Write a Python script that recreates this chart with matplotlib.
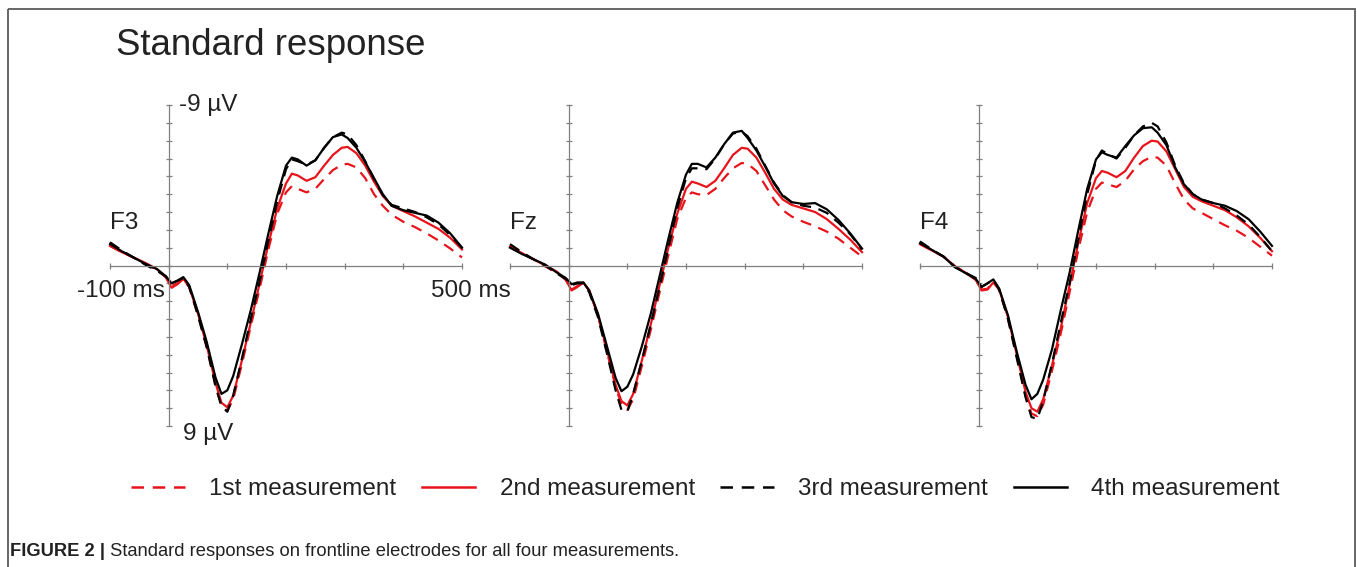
import matplotlib
matplotlib.use("Agg")
import matplotlib.pyplot as plt
from matplotlib.lines import Line2D
from matplotlib.patches import Rectangle

plt.rcParams["font.family"] = ["Liberation Sans", "DejaVu Sans"]

# time grid (ms) shared by all traces
T = [-100, -80, -60, -40, -20, -5, 5, 15, 25, 35, 50, 65, 80, 90, 100, 110, 125,
     140, 155, 170, 185, 200, 210, 220, 235, 250, 265, 280, 295, 305, 320, 335,
     350, 365, 380, 400, 420, 440, 460, 480, 500]

ELECTRODES = ["F3", "Fz", "F4"]
LABELS = ["1st measurement", "2nd measurement", "3rd measurement", "4th measurement"]

# amplitudes in µV (negative plotted upwards)
F3_1ST = [-1.1, -0.75, -0.45, -0.1, 0.25, 0.65, 1.15, 1.0, 0.75, 1.2, 2.8, 4.6, 6.7, 7.8, 8.15, 7.5, 5.5,
          3.4, 1.3, -0.9, -2.9, -4.1, -4.45, -4.3, -4.1, -4.3, -4.85, -5.35, -5.65, -5.7, -5.5, -4.9,
          -4.0, -3.35, -2.85, -2.45, -2.15, -1.8, -1.4, -0.95, -0.45]
F3_2ND = [-1.1, -0.75, -0.45, -0.15, 0.2, 0.65, 1.25, 1.05, 0.75, 1.2, 2.7, 4.5, 6.6, 7.7, 7.95, 7.3, 5.3,
          3.2, 1.0, -1.2, -3.2, -4.6, -5.15, -5.05, -4.75, -4.95, -5.6, -6.2, -6.6, -6.65, -6.3, -5.6,
          -4.7, -3.9, -3.35, -3.05, -2.75, -2.4, -2.05, -1.55, -0.9]
F3_3RD = [-1.3, -0.85, -0.45, -0.05, 0.3, 0.6, 1.0, 0.85, 0.7, 1.2, 2.8, 4.6, 6.8, 7.9, 8.2, 7.3, 5.2,
          3.0, 0.9, -1.4, -3.6, -5.4, -5.95, -5.85, -5.65, -5.9, -6.6, -7.2, -7.45, -7.35, -6.75, -5.85,
          -4.85, -3.95, -3.4, -3.2, -3.0, -2.7, -2.3, -1.7, -1.0]
F3_4TH = [-1.2, -0.8, -0.45, -0.1, 0.2, 0.6, 1.0, 0.85, 0.65, 1.1, 2.6, 4.3, 6.3, 7.2, 7.0, 6.2, 4.4,
          2.5, 0.4, -1.8, -3.9, -5.6, -6.05, -5.95, -5.6, -5.9, -6.6, -7.2, -7.35, -7.15, -6.6, -5.8,
          -4.9, -4.0, -3.35, -3.1, -2.95, -2.8, -2.4, -1.8, -1.0]

FZ_1ST = [-1.1, -0.7, -0.35, 0.05, 0.4, 0.8, 1.35, 1.15, 0.95, 1.4, 2.8, 4.8, 6.8, 7.8, 8.1, 7.5, 5.6,
          3.6, 1.5, -0.6, -2.6, -3.8, -4.1, -4.0, -3.95, -4.3, -4.9, -5.45, -5.75, -5.7, -5.3, -4.5,
          -3.7, -3.1, -2.75, -2.45, -2.2, -1.9, -1.5, -1.0, -0.5]
FZ_2ND = [-1.05, -0.7, -0.35, 0.0, 0.35, 0.8, 1.4, 1.2, 0.95, 1.4, 2.8, 4.7, 6.7, 7.6, 7.85, 7.2, 5.3,
          3.3, 1.1, -1.0, -2.9, -4.3, -4.7, -4.6, -4.4, -4.75, -5.45, -6.2, -6.6, -6.55, -6.05, -5.2,
          -4.3, -3.7, -3.4, -3.2, -3.0, -2.6, -2.05, -1.45, -0.75]
FZ_3RD = [-1.2, -0.75, -0.35, 0.0, 0.45, 0.75, 1.1, 1.0, 1.0, 1.5, 2.9, 4.9, 7.0, 8.1, 8.2, 7.2, 5.3,
          3.3, 1.2, -1.0, -3.2, -4.9, -5.45, -5.45, -5.4, -6.0, -6.8, -7.4, -7.5, -7.25, -6.55, -5.6,
          -4.65, -3.95, -3.55, -3.35, -3.25, -2.95, -2.4, -1.75, -0.9]
FZ_4TH = [-1.0, -0.65, -0.35, -0.05, 0.4, 0.7, 1.05, 0.95, 0.95, 1.4, 2.7, 4.5, 6.3, 7.05, 6.8, 6.1, 4.5,
          2.7, 0.6, -1.5, -3.5, -5.1, -5.7, -5.7, -5.5, -6.05, -6.8, -7.45, -7.55, -7.15, -6.45, -5.55,
          -4.6, -3.9, -3.55, -3.45, -3.5, -3.15, -2.55, -1.8, -0.95]

F4_1ST = [-1.2, -0.85, -0.5, 0.05, 0.45, 0.8, 1.35, 1.3, 0.9, 1.35, 3.0, 5.1, 7.3, 8.3, 8.45, 7.8, 5.9,
          3.8, 1.5, -0.9, -3.0, -4.3, -4.65, -4.55, -4.4, -4.75, -5.4, -5.85, -6.1, -6.05, -5.6, -4.6,
          -3.7, -3.2, -2.95, -2.6, -2.25, -1.95, -1.55, -1.05, -0.55]
F4_2ND = [-1.2, -0.85, -0.5, 0.05, 0.45, 0.8, 1.4, 1.35, 0.95, 1.35, 2.9, 5.0, 7.1, 8.0, 8.2, 7.5, 5.6,
          3.5, 1.1, -1.3, -3.5, -4.9, -5.3, -5.2, -4.95, -5.3, -6.05, -6.7, -7.0, -6.95, -6.4, -5.4,
          -4.4, -3.85, -3.6, -3.35, -3.1, -2.7, -2.2, -1.55, -0.8]
F4_3RD = [-1.35, -0.9, -0.5, 0.1, 0.45, 0.7, 1.2, 1.0, 0.8, 1.35, 3.0, 5.2, 7.4, 8.5, 8.6, 7.6, 5.5,
          3.2, 1.0, -1.5, -4.0, -5.9, -6.45, -6.25, -6.0, -6.6, -7.3, -7.8, -8.0, -7.8, -6.9, -5.6,
          -4.6, -4.0, -3.7, -3.5, -3.2, -2.8, -2.3, -1.6, -0.8]
F4_4TH = [-1.25, -0.88, -0.5, 0.1, 0.47, 0.75, 1.2, 1.0, 0.78, 1.3, 2.8, 4.85, 6.7, 7.5, 7.2, 6.4, 4.7,
          2.5, 0.4, -2.0, -4.3, -5.95, -6.35, -6.2, -6.05, -6.7, -7.3, -7.7, -7.75, -7.45, -6.75, -5.5,
          -4.55, -4.0, -3.7, -3.5, -3.35, -3.05, -2.6, -1.9, -1.1]

DATA = {"F3": [F3_1ST, F3_2ND, F3_3RD, F3_4TH],
        "Fz": [FZ_1ST, FZ_2ND, FZ_3RD, FZ_4TH],
        "F4": [F4_1ST, F4_2ND, F4_3RD, F4_4TH]}

RED = "#e8141b"
STYLES = [dict(color=RED, ls=(0, (5, 3.5))), dict(color=RED, ls="-"),
          dict(color="black", ls=(0, (5, 3.5))), dict(color="black", ls="-")]
AXCOL = "#808080"
TXT = "#222222"
FS = 17.5

W, H = 1357, 567
fig = plt.figure(figsize=(W / 100, H / 100), dpi=100)

# background: frame + title + caption
bg = fig.add_axes([0, 0, 1, 1])
bg.set_xlim(0, W); bg.set_ylim(H, 0); bg.axis("off")
bg.add_patch(Rectangle((8, 8.5), 1346.5, 600, fill=False, ec="#5a5a5a", lw=1.3))
bg.text(116, 55, "Standard response", fontsize=26.4, color=TXT, va="baseline", ha="left")
cap = bg.text(10, 556, "FIGURE 2 |", fontsize=13.2, fontweight="bold", color=TXT, va="baseline")
bg.annotate(" Standard responses on frontline electrodes for all four measurements.",
            xy=(1, 0), xycoords=cap, va="bottom", fontsize=13.2, color=TXT)

lefts = [110, 510, 920]
for i, (name, left) in enumerate(zip(ELECTRODES, lefts)):
    ax = fig.add_axes([left / W, (H - 426) / H, 352 / W, 321 / H])
    for vals, st, in zip(DATA[name], STYLES):
        ax.plot(T, vals, lw=1.6, clip_on=False, solid_joinstyle="round",
                dash_joinstyle="round", **st)
    ax.set_xlim(-100, 500)
    ax.set_ylim(9, -9)
    for s in ("top", "right"):
        ax.spines[s].set_visible(False)
    ax.spines["left"].set_position(("data", 0))
    ax.spines["bottom"].set_position(("data", 0))
    for s in ("left", "bottom"):
        ax.spines[s].set_color(AXCOL)
        ax.spines[s].set_linewidth(0.9)
    ax.set_xticks(range(-100, 501, 100))
    ax.set_yticks(range(-9, 10))
    ax.tick_params(direction="inout", length=5, width=0.9, color=AXCOL,
                   labelleft=False, labelbottom=False)
    ax.patch.set_alpha(0)
    ax.text(-100, -2.4, name, fontsize=FS, color=TXT, ha="left", va="center")
    if i == 0:
        ax.text(18, -9, "-9 µV", fontsize=FS, color=TXT, ha="left", va="center", clip_on=False)
        ax.text(24, 9.45, "9 µV", fontsize=FS, color=TXT, ha="left", va="center", clip_on=False)
        ax.text(-7, 1.45, "-100 ms", fontsize=FS, color=TXT, ha="right", va="center")
        ax.text(448, 1.45, "500 ms", fontsize=FS, color=TXT, ha="left", va="center")

handles = [Line2D([], [], lw=1.8, **st) for st in STYLES]
fig.legend(handles, LABELS, loc="center", bbox_to_anchor=(0.52, 1 - 489 / H), ncol=4,
           frameon=False, fontsize=FS, handlelength=2.2, handletextpad=1.0,
           columnspacing=1.05, labelcolor=TXT)

fig.savefig("out.png", dpi=100)
